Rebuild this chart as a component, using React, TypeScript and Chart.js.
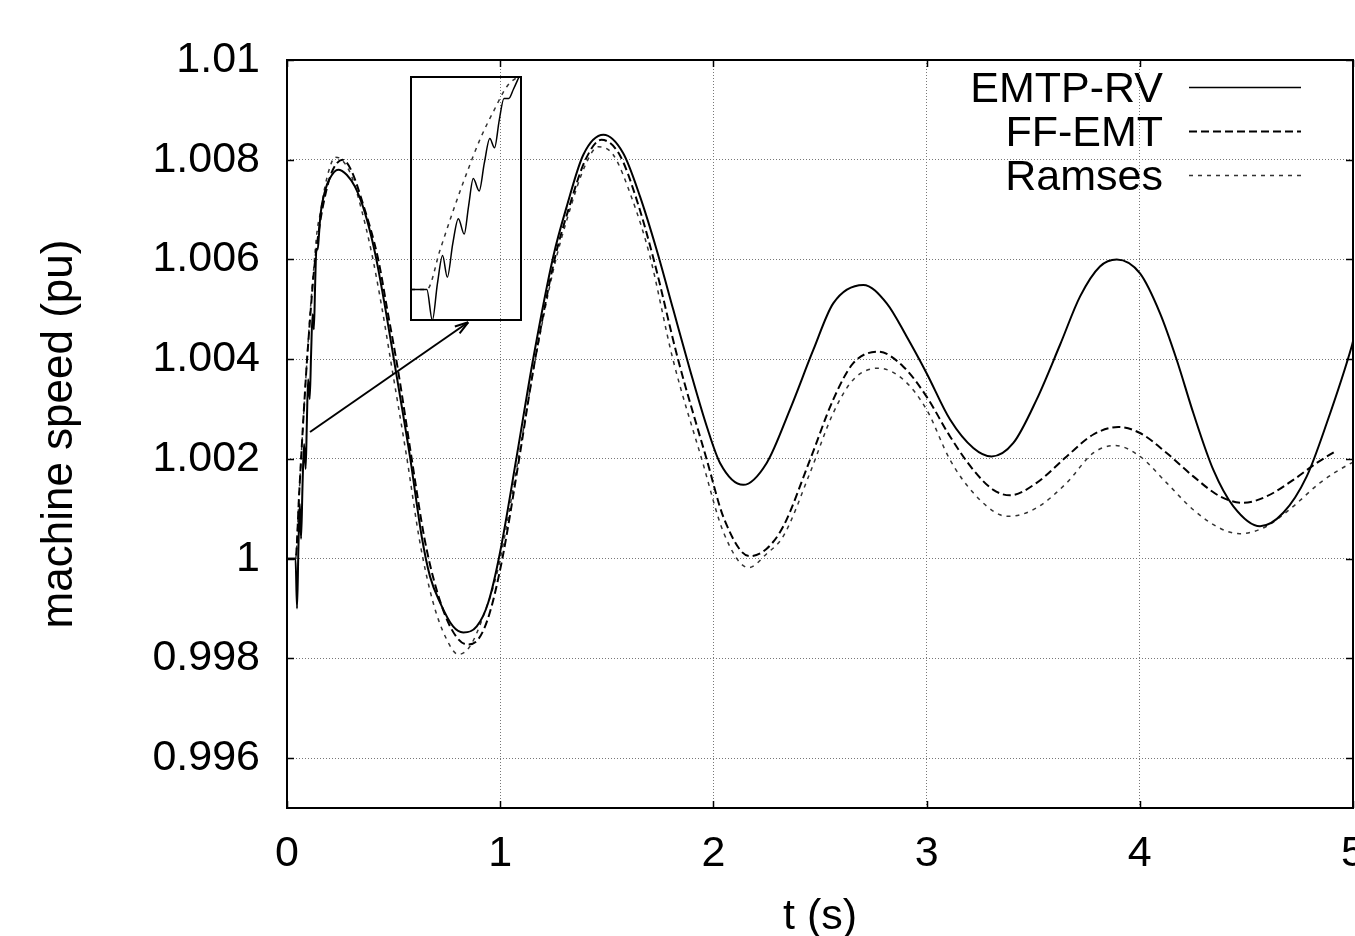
import React, { useEffect, useRef } from 'react';
import { Chart, registerables } from 'chart.js';

Chart.register(...registerables);

// ---- data (t in s, machine speed in pu) ----
const seriesNames = ['EMTP-RV', 'FF-EMT', 'Ramses'];

const emtpRV: [number, number][] = [
  [0, 1.0], [0.02, 1.0], [0.04, 1.0], [0.047, 0.999], [0.0535, 1.0002], [0.06, 1.0011], [0.066, 1.0004],
  [0.073, 1.0015], [0.08, 1.0023], [0.0875, 1.0018], [0.093, 1.0027], [0.099, 1.0036], [0.1065, 1.0032],
  [0.113, 1.0041], [0.12, 1.0049], [0.126, 1.0046], [0.132, 1.0055], [0.138, 1.0062], [0.144, 1.0062],
  [0.15, 1.0065], [0.157, 1.0069], [0.18, 1.0074], [0.2, 1.00762], [0.24, 1.0078], [0.28, 1.0077],
  [0.32, 1.00745], [0.366, 1.00693], [0.413, 1.00613], [0.46, 1.00505], [0.507, 1.00385], [0.577, 1.00204],
  [0.632, 1.00044], [0.671, 0.99964], [0.718, 0.99912], [0.779, 0.99864], [0.827, 0.99852], [0.89, 0.99864],
  [0.944, 0.99912], [0.999, 1.00012], [1.077, 1.00204], [1.154, 1.00399], [1.249, 1.00606], [1.312, 1.00706],
  [1.39, 1.0081], [1.484, 1.0085], [1.577, 1.00813], [1.656, 1.00726], [1.734, 1.00619], [1.812, 1.00499],
  [1.89, 1.00379], [1.969, 1.00265], [2.031, 1.00192], [2.14, 1.00148], [2.25, 1.00192], [2.359, 1.00299],
  [2.469, 1.00419], [2.562, 1.00512], [2.703, 1.00549], [2.813, 1.00512], [2.907, 1.00445], [3.0, 1.00372],
  [3.11, 1.00279], [3.219, 1.00222], [3.305, 1.00205], [3.407, 1.00232], [3.516, 1.00319], [3.626, 1.00429],
  [3.72, 1.00526], [3.813, 1.00586], [3.892, 1.006], [4.001, 1.00572], [4.095, 1.00492], [4.173, 1.00399],
  [4.251, 1.00292], [4.345, 1.00178], [4.439, 1.00105], [4.564, 1.00065], [4.673, 1.00092], [4.783, 1.00165],
  [4.877, 1.00272], [4.994, 1.00426], [5.0, 1.00436],
];

const ffEMT: [number, number][] = [
  [0, 1.0], [0.04, 1.0], [0.057, 1.0013], [0.074, 1.0026], [0.091, 1.0038], [0.108, 1.0048], [0.125, 1.0057],
  [0.15, 1.0066], [0.18, 1.0073], [0.21, 1.00775], [0.26, 1.008], [0.3, 1.0078], [0.35, 1.0072],
  [0.428, 1.006], [0.47, 1.005], [0.52, 1.0038], [0.585, 1.002], [0.645, 1.0004], [0.7, 0.9994],
  [0.77, 0.9986], [0.845, 0.99828], [0.9, 0.9984], [0.95, 0.9989], [1.01, 1.0], [1.085, 1.0019],
  [1.16, 1.0039], [1.255, 1.006], [1.32, 1.007], [1.4, 1.008], [1.475, 1.0084], [1.56, 1.0081],
  [1.64, 1.0072], [1.72, 1.006], [1.834, 1.004], [1.968, 1.002], [2.05, 1.0008], [2.17, 1.00005],
  [2.25, 1.0002], [2.328, 1.00065], [2.453, 1.00198], [2.562, 1.00319], [2.656, 1.00392], [2.774, 1.00415],
  [2.891, 1.00385], [3.0, 1.00325], [3.11, 1.00245], [3.219, 1.00178], [3.313, 1.00138], [3.391, 1.00127],
  [3.516, 1.00152], [3.657, 1.00205], [3.782, 1.00249], [3.899, 1.00264], [4.001, 1.00252], [4.126, 1.00212],
  [4.251, 1.00165], [4.376, 1.00125], [4.486, 1.00112], [4.595, 1.00125], [4.72, 1.00158], [4.83, 1.00192],
  [4.916, 1.00215],
];

const ramses: [number, number][] = [
  [0, 1.0], [0.02, 1.0], [0.04, 1.0], [0.057, 1.0013], [0.074, 1.0026], [0.091, 1.0038], [0.108, 1.0049],
  [0.125, 1.0058], [0.142, 1.0066], [0.155, 1.0069], [0.178, 1.00746], [0.202, 1.00786], [0.225, 1.00805],
  [0.257, 1.008], [0.304, 1.00766], [0.35, 1.00699], [0.397, 1.00613], [0.444, 1.00506], [0.491, 1.00385],
  [0.561, 1.00205], [0.624, 1.00031], [0.686, 0.99911], [0.749, 0.99838], [0.804, 0.99808], [0.858, 0.99824],
  [0.921, 0.99885], [0.99, 0.9998], [1.085, 1.002], [1.165, 1.004], [1.25, 1.0058], [1.32, 1.0069],
  [1.4, 1.0079], [1.46, 1.00826], [1.53, 1.0081], [1.62, 1.0072], [1.7, 1.0061], [1.81, 1.004],
  [1.945, 1.002], [2.05, 1.0005], [2.165, 0.99982], [2.25, 1.0001], [2.328, 1.00045], [2.453, 1.00172],
  [2.562, 1.00292], [2.656, 1.00359], [2.774, 1.00382], [2.891, 1.00359], [3.0, 1.00299], [3.11, 1.00198],
  [3.219, 1.00132], [3.344, 1.00088], [3.391, 1.00085], [3.516, 1.00102], [3.657, 1.00152], [3.782, 1.00212],
  [3.884, 1.00227], [4.001, 1.00205], [4.126, 1.00152], [4.251, 1.00098], [4.376, 1.00061], [4.47, 1.0005],
  [4.595, 1.00065], [4.72, 1.00105], [4.845, 1.00152], [4.994, 1.00192], [5.0, 1.00193],
];

const xTicks = [0, 1, 2, 3, 4, 5];
const xTickLabels = ['0', '1', '2', '3', '4', '5'];
const yTicks = [0.996, 0.998, 1.0, 1.002, 1.004, 1.006, 1.008, 1.01];
const yTickLabels = ['0.996', '0.998', '1', '1.002', '1.004', '1.006', '1.008', '1.01'];

// zoom inset: window of the data shown, and the box (in axis units) where it is drawn
const insetWindow = { t0: 0.02, t1: 0.16, v0: 0.999, v1: 1.0069 };
const insetBox = { t0: 0.582, t1: 1.099, v0: 1.00478, v1: 1.00966 };
const arrowFrom = { t: 0.108, v: 1.00254 };
const arrowTo = { t: 0.85, v: 1.00474 };

const FONT = '"Liberation Sans", Arial, Helvetica, sans-serif';

const toInset = (pts: [number, number][]) =>
  pts
    .filter(([t]) => t >= insetWindow.t0 && t <= insetWindow.t1)
    .map(([t, v]) => ({
      x: insetBox.t0 + ((t - insetWindow.t0) / (insetWindow.t1 - insetWindow.t0)) * (insetBox.t1 - insetBox.t0),
      y: insetBox.v0 + ((v - insetWindow.v0) / (insetWindow.v1 - insetWindow.v0)) * (insetBox.v1 - insetBox.v0),
    }));

const styles = [
  { borderColor: '#000', borderWidth: 2, borderDash: [] as number[] },
  { borderColor: '#000', borderWidth: 2, borderDash: [8, 4] },
  { borderColor: '#333', borderWidth: 1.5, borderDash: [4, 5] },
];

const decorPlugin = {
  id: 'decor',
  afterDatasetsDraw(chart: any) {
    const { ctx, chartArea: a, scales } = chart;
    const x = scales.x;
    const y = scales.y;
    const line = (x1: number, y1: number, x2: number, y2: number) => {
      ctx.beginPath();
      ctx.moveTo(x1, y1);
      ctx.lineTo(x2, y2);
      ctx.stroke();
    };
    ctx.save();
    ctx.strokeStyle = '#000';
    ctx.setLineDash([]);
    // inward tick marks on all four sides
    ctx.lineWidth = 1.5;
    yTicks.forEach((v) => {
      const py = Math.round(y.getPixelForValue(v)) + 0.5;
      line(a.left, py, a.left + 7, py);
      line(a.right - 7, py, a.right, py);
    });
    xTicks.forEach((t) => {
      const px = Math.round(x.getPixelForValue(t)) + 0.5;
      line(px, a.bottom, px, a.bottom - 7);
      line(px, a.top, px, a.top + 7);
    });
    // frame
    ctx.lineWidth = 2;
    ctx.strokeRect(a.left, a.top, a.right - a.left, a.bottom - a.top);
    // inset box
    const bx0 = x.getPixelForValue(insetBox.t0);
    const bx1 = x.getPixelForValue(insetBox.t1);
    const by0 = y.getPixelForValue(insetBox.v1);
    const by1 = y.getPixelForValue(insetBox.v0);
    ctx.strokeRect(Math.round(bx0), Math.round(by0), Math.round(bx1 - bx0), Math.round(by1 - by0));
    // arrow
    const ax0 = x.getPixelForValue(arrowFrom.t);
    const ay0 = y.getPixelForValue(arrowFrom.v);
    const ax1 = x.getPixelForValue(arrowTo.t);
    const ay1 = y.getPixelForValue(arrowTo.v);
    line(ax0, ay0, ax1, ay1);
    const ang = Math.atan2(ay1 - ay0, ax1 - ax0);
    const hl = 14;
    const ha = 0.3;
    line(ax1, ay1, ax1 - hl * Math.cos(ang - ha), ay1 - hl * Math.sin(ang - ha));
    line(ax1, ay1, ax1 - hl * Math.cos(ang + ha), ay1 - hl * Math.sin(ang + ha));
    // legend
    ctx.font = `43px ${FONT}`;
    ctx.fillStyle = '#000';
    ctx.textAlign = 'right';
    ctx.textBaseline = 'alphabetic';
    seriesNames.forEach((name, i) => {
      const ly = a.top + 27 + i * 44;
      ctx.fillText(name, a.right - 190, ly + 15);
      const s = styles[i];
      ctx.strokeStyle = s.borderColor;
      ctx.lineWidth = i === 0 ? 1.5 : s.borderWidth;
      ctx.setLineDash(s.borderDash);
      line(a.right - 164, Math.round(ly) + 0.5, a.right - 52, Math.round(ly) + 0.5);
    });
    ctx.restore();
  },
};

export default function App() {
  const ref = useRef<HTMLCanvasElement | null>(null);
  useEffect(() => {
    if (!ref.current) return;
    const mk = (pts: [number, number][]) => pts.map(([t, v]) => ({ x: t, y: v }));
    const base = { pointRadius: 0, fill: false, cubicInterpolationMode: 'monotone' as const };
    const chart = new Chart(ref.current, {
      type: 'line',
      data: {
        datasets: [
          { label: seriesNames[0], data: mk(emtpRV), ...styles[0], ...base },
          { label: seriesNames[1], data: mk(ffEMT), ...styles[1], ...base },
          { label: seriesNames[2], data: mk(ramses), ...styles[2], ...base },
          { label: 'inset ' + seriesNames[0], data: toInset(emtpRV), ...styles[0], borderWidth: 1.5, ...base },
          { label: 'inset ' + seriesNames[2], data: toInset(ramses), ...styles[2], borderWidth: 1.5, ...base },
        ],
      },
      options: {
        animation: false,
        responsive: false,
        devicePixelRatio: 1,
        parsing: false as any,
        layout: { padding: { top: 60, right: 2, left: 0, bottom: 0 } },
        plugins: { legend: { display: false }, tooltip: { enabled: false } },
        scales: {
          x: {
            type: 'linear',
            min: 0,
            max: 5,
            afterBuildTicks: (s: any) => {
              s.ticks = xTicks.map((v) => ({ value: v }));
            },
            afterFit: (s: any) => {
              s.height = 128;
              s.paddingLeft = 0;
              s.paddingRight = 0;
            },
            ticks: {
              callback: (_v: any, i: number) => xTickLabels[i],
              font: { size: 43, family: FONT },
              color: '#000',
              padding: 20,
              maxRotation: 0,
              autoSkip: false,
            },
            grid: { color: '#777', lineWidth: 1, drawTicks: false },
            border: { display: false, dash: [1, 2] },
            title: {
              display: true,
              text: 't (s)',
              font: { size: 43, family: FONT },
              color: '#000',
              padding: { top: 0, bottom: -7 },
            },
          },
          y: {
            type: 'linear',
            min: 0.995,
            max: 1.01,
            afterBuildTicks: (s: any) => {
              s.ticks = yTicks.map((v) => ({ value: v }));
            },
            afterFit: (s: any) => {
              s.width = 287;
              s.paddingTop = 0;
              s.paddingBottom = 0;
            },
            ticks: {
              callback: (_v: any, i: number) => yTickLabels[i],
              font: { size: 43, family: FONT },
              color: '#000',
              padding: 27,
              autoSkip: false,
            },
            grid: { color: '#777', lineWidth: 1, drawTicks: false },
            border: { display: false, dash: [1, 2] },
            title: {
              display: true,
              text: 'machine speed (pu)',
              font: { size: 44, family: FONT },
              color: '#000',
              padding: { top: 33, bottom: 0 },
            },
          },
        },
      },
      plugins: [decorPlugin],
    });
    return () => chart.destroy();
  }, []);
  return (
    <div style={{ position: 'absolute', left: 0, top: 0, width: 1355, height: 936, background: '#fff' }}>
      <canvas ref={ref} width={1355} height={936} style={{ display: 'block' }} />
    </div>
  );
}
